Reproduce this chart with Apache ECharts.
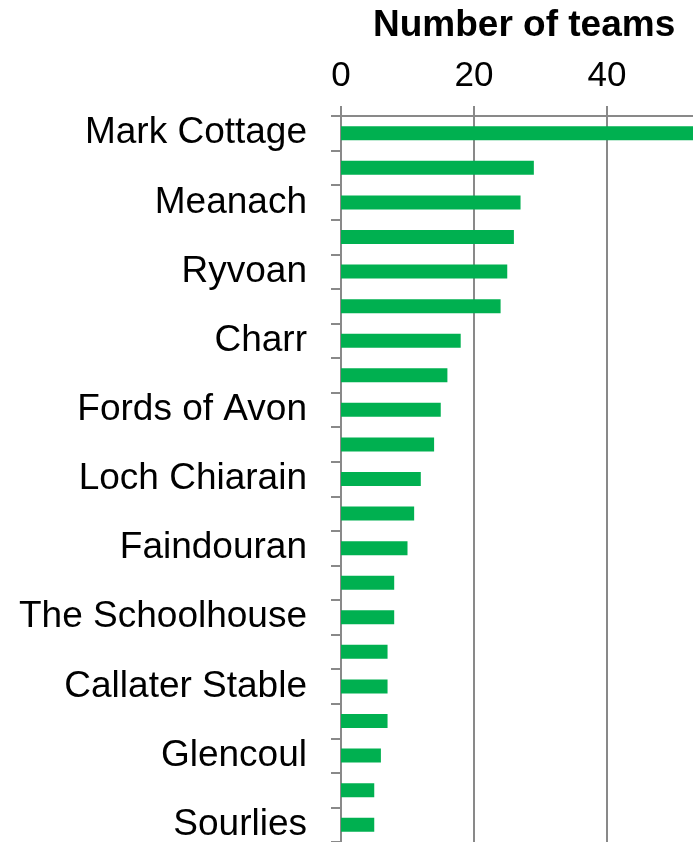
<!DOCTYPE html>
<html>
<head>
<meta charset="utf-8">
<style>
  html, body { margin: 0; padding: 0; background: #fff; }
  #main { width: 693px; height: 842px; }
</style>
<script src="https://cdn.jsdelivr.net/npm/echarts@6/dist/echarts.min.js"></script>
</head>
<body>
<div id="main"></div>
<script>
// categories top to bottom, only every other one is labelled in the picture
var huts = ['Mark Cottage', '', 'Meanach', '', 'Ryvoan', '', 'Charr', '',
    'Fords of Avon', '', 'Loch Chiarain', '', 'Faindouran', '', 'The Schoolhouse', '',
    'Callater Stable', '', 'Glencoul', '', 'Sourlies'];
var teams = [55, 29, 27, 26, 25, 24, 18, 16, 15, 14, 12, 11, 10, 8, 8, 7, 7, 7, 6, 5, 5];
var xTicks = [0, 20, 40, 60];

var grey = '#898989';
var font = '"Liberation Sans", Arial, sans-serif';

var myChart = echarts.init(document.getElementById('main'));

var option = {
    animation: false,
    title: {
        text: 'Number of teams',
        left: 368,
        top: 2,
        textStyle: { fontFamily: font, fontSize: 37, fontWeight: 'bold', color: '#000' }
    },
    grid: {
        left: 341,
        top: 116,
        right: -47,
        bottom: 0,
        containLabel: false,
        outerBoundsMode: 'none'
    },
    xAxis: {
        type: 'value',
        position: 'top',
        min: xTicks[0],
        max: xTicks[xTicks.length - 1],
        interval: 20,
        axisLine: { show: true, lineStyle: { color: grey, width: 2 } },
        axisTick: { show: true, length: 10, lineStyle: { color: grey, width: 2 } },
        splitLine: { show: true, lineStyle: { color: grey, width: 2 } },
        axisLabel: { fontFamily: font, fontSize: 35, color: '#000', margin: 22 }
    },
    yAxis: {
        type: 'category',
        inverse: true,
        data: huts,
        axisLine: { show: true, lineStyle: { color: grey, width: 2 } },
        axisTick: { show: true, length: 10, interval: 0, alignWithLabel: false, lineStyle: { color: grey, width: 2 } },
        axisLabel: { interval: 0, fontFamily: font, fontSize: 37, color: '#000', margin: 34, padding: [4, 0, 0, 0] }
    },
    series: [
        {
            name: 'Number of teams',
            type: 'bar',
            data: teams,
            barWidth: 14,
            itemStyle: { color: '#00B050' }
        }
    ]
};

myChart.setOption(option);
</script>
</body>
</html>
